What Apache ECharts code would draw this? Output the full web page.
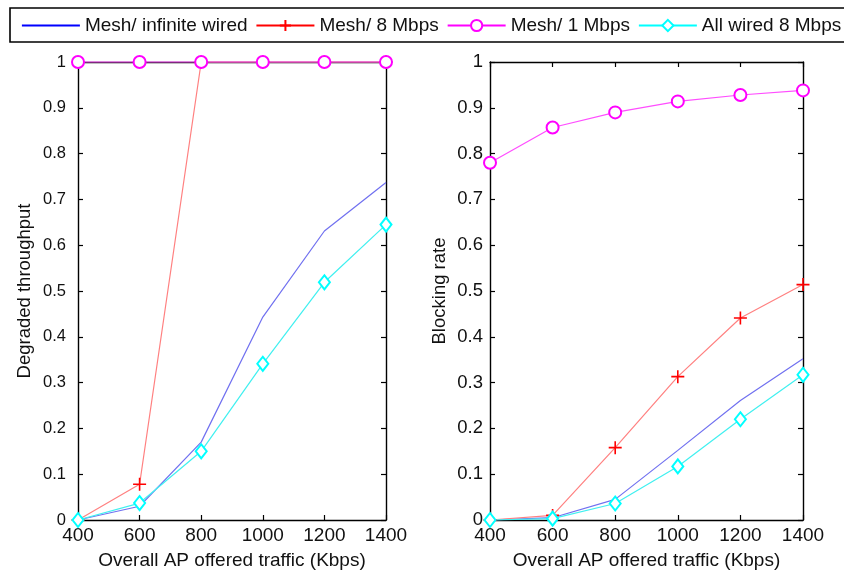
<!DOCTYPE html>
<html><head><meta charset="utf-8">
<script src="https://cdn.jsdelivr.net/npm/echarts@6/dist/echarts.min.js"></script>
<style>html,body{margin:0;padding:0;background:#fff}#c{width:844px;height:575px}</style>
</head><body><div id="c"></div>
<script>
const xValues = [400, 600, 800, 1000, 1200, 1400];
const seriesNames = ['Mesh/ infinite wired', 'Mesh/ 8 Mbps', 'Mesh/ 1 Mbps', 'All wired 8 Mbps'];
// Left: Degraded throughput
const leftInfinite = [0, 0.03, 0.17, 0.443, 0.631, 0.737];
const left8Mbps    = [0, 0.078, 1, 1, 1, 1];
const left1Mbps    = [1, 1, 1, 1, 1, 1];
const leftWired    = [0, 0.037, 0.15, 0.341, 0.519, 0.645];
// Right: Blocking rate
const rightInfinite = [0, 0.005, 0.045, 0.152, 0.261, 0.352];
const right8Mbps    = [0, 0.01, 0.158, 0.313, 0.441, 0.514];
const right1Mbps    = [0.78, 0.857, 0.89, 0.914, 0.928, 0.938];
const rightWired    = [0, 0.003, 0.036, 0.117, 0.22, 0.317];

const FONT = 'Liberation Sans';
const plusPath = 'path://M5,0L5,10M0,5L10,5';
const pure = ['#0000ff', '#ff0000', '#ff00ff', '#00ffff'];
const lineCols = ['#7070f0', '#ff8080', '#ff4dff', '#40f0f0'];
const symbols = ['none', plusPath, 'emptyCircle', 'emptyDiamond'];
const symSizes = [0, 13, 12, [11, 14]];

function pairs(arr){ return xValues.map((x,i)=>[x, arr[i]]); }

function mkSeries(idx, data, xi, yi){
  return {
    name: seriesNames[idx], type: 'line', xAxisIndex: xi, yAxisIndex: yi,
    data: pairs(data), symbol: symbols[idx], symbolSize: symSizes[idx],
    showSymbol: idx !== 0, animation: false, clip: false,
    lineStyle: { color: lineCols[idx], width: 1.2 },
    itemStyle: { color: pure[idx], borderColor: pure[idx], borderWidth: idx===1 ? 1.6 : 0.9 },
    emphasis: { disabled: true }
  };
}

function xAxis(gi, show){
  return {
    type: 'value', gridIndex: gi, min: 400, max: 1400, interval: 200,
    position: show ? 'bottom' : 'top',
    axisLine: { show: true, onZero: false, lineStyle: { color: '#000', width: 1.4 } },
    axisTick: { show: true, inside: true, length: 5, lineStyle: { color: '#000', width: 1.2 } },
    axisLabel: { show: show, color: '#111', fontFamily: FONT, fontSize: 19, margin: 6,
      formatter: v => String(v) },
    splitLine: { show: false },
    name: show ? 'Overall AP offered traffic (Kbps)' : '',
    nameLocation: 'middle', nameGap: 31,
    nameTextStyle: { color: '#111', fontFamily: FONT, fontSize: 19 }
  };
}
function yAxis(gi, show, name, fs, margin, gap){
  return {
    type: 'value', gridIndex: gi, min: 0, max: 1, interval: 0.1,
    position: show ? 'left' : 'right',
    axisLine: { show: true, onZero: false, lineStyle: { color: '#000', width: 1.4 } },
    axisTick: { show: true, inside: true, length: 5, lineStyle: { color: '#000', width: 1.2 } },
    axisLabel: { show: show, color: '#111', fontFamily: FONT, fontSize: fs || 15, margin: margin || 8,
      formatter: v => (v === 0 || v === 1) ? String(v) : v.toFixed(1) },
    splitLine: { show: false },
    name: show ? name : '', nameLocation: 'middle', nameGap: gap || 40,
    nameTextStyle: { color: '#111', fontFamily: FONT, fontSize: 18.5 }
  };
}

const chart = echarts.init(document.getElementById('c'), null, { renderer: 'canvas' });
chart.setOption({
  animation: false,
  backgroundColor: '#fff',
  graphic: [{ type: 'rect', shape: { x: 10, y: 8, width: 900, height: 34 },
    style: { fill: 'none', stroke: '#000', lineWidth: 1.6 }, z: 100 }],
  legend: {
    left: 21, top: 16, padding: 0, width: 1400, itemWidth: 58, itemHeight: 14, itemGap: 8,
    textStyle: { color: '#111', fontFamily: FONT, fontSize: 19, padding: [0,0,0,0] },
    data: seriesNames.map((n,i)=>({ name: n, lineStyle: { color: pure[i], width: 1.8 },
      itemStyle: i === 0 ? { opacity: 0 } : { color: pure[i], borderColor: pure[i] } }))
  },
  grid: [
    { left: 78, right: 458, top: 62, bottom: 53 },
    { left: 490, right: 41, top: 62, bottom: 53 }
  ],
  xAxis: [ xAxis(0, true), xAxis(0, false), xAxis(1, true), xAxis(1, false) ],
  yAxis: [ yAxis(0, true, 'Degraded throughput', 16.5, 12, 44), yAxis(0, false),
           yAxis(1, true, 'Blocking rate', 18.5, 7, 41), yAxis(1, false) ],
  series: [
    mkSeries(0, leftInfinite, 0, 0),
    mkSeries(1, left8Mbps, 0, 0),
    mkSeries(2, left1Mbps, 0, 0),
    mkSeries(3, leftWired, 0, 0),
    mkSeries(0, rightInfinite, 2, 2),
    mkSeries(1, right8Mbps, 2, 2),
    mkSeries(2, right1Mbps, 2, 2),
    mkSeries(3, rightWired, 2, 2)
  ]
});
</script></body></html>
